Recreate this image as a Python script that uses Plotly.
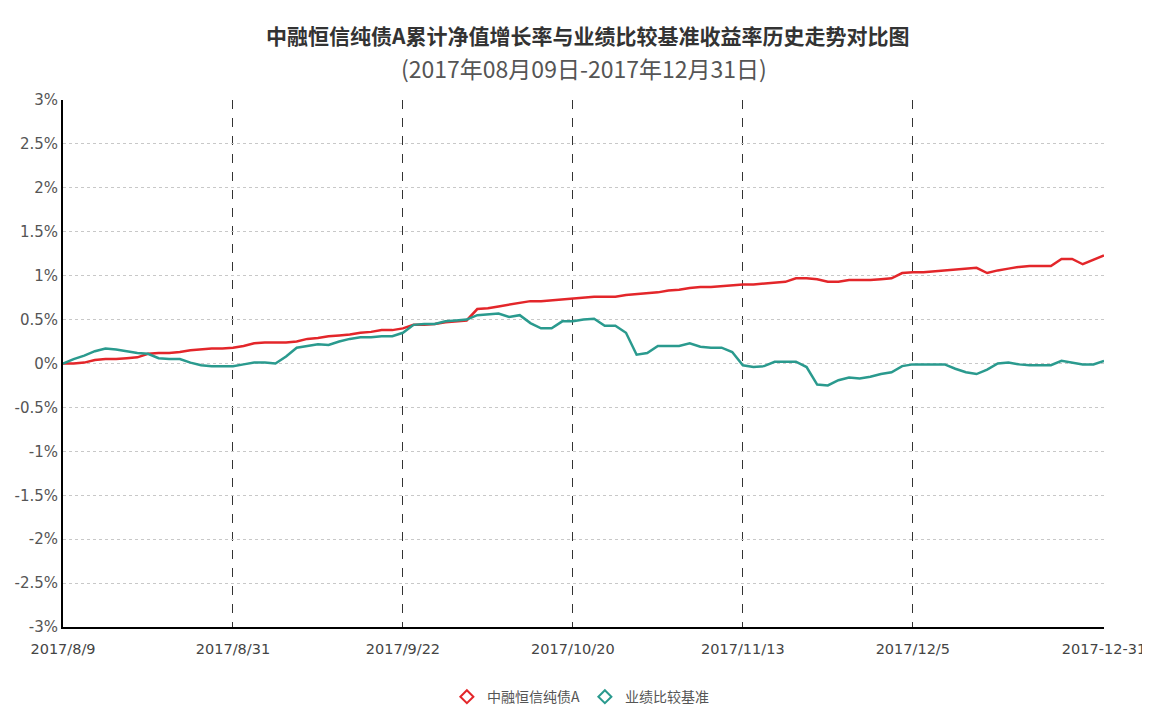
import plotly.graph_objects as go

dates = [
    "2017/8/9", "2017/8/10", "2017/8/11", "2017/8/14", "2017/8/15", "2017/8/16", "2017/8/17", "2017/8/18",
    "2017/8/21", "2017/8/22", "2017/8/23", "2017/8/24", "2017/8/25", "2017/8/28", "2017/8/29", "2017/8/30",
    "2017/8/31", "2017/9/1", "2017/9/4", "2017/9/5", "2017/9/6", "2017/9/7", "2017/9/8", "2017/9/11",
    "2017/9/12", "2017/9/13", "2017/9/14", "2017/9/15", "2017/9/18", "2017/9/19", "2017/9/20", "2017/9/21",
    "2017/9/22", "2017/9/25", "2017/9/26", "2017/9/27", "2017/9/28", "2017/9/29", "2017/9/30", "2017/10/9",
    "2017/10/10", "2017/10/11", "2017/10/12", "2017/10/13", "2017/10/16", "2017/10/17", "2017/10/18", "2017/10/19",
    "2017/10/20", "2017/10/23", "2017/10/24", "2017/10/25", "2017/10/26", "2017/10/27", "2017/10/30", "2017/10/31",
    "2017/11/1", "2017/11/2", "2017/11/3", "2017/11/6", "2017/11/7", "2017/11/8", "2017/11/9", "2017/11/10",
    "2017/11/13", "2017/11/14", "2017/11/15", "2017/11/16", "2017/11/17", "2017/11/20", "2017/11/21", "2017/11/22",
    "2017/11/23", "2017/11/24", "2017/11/27", "2017/11/28", "2017/11/29", "2017/11/30", "2017/12/1", "2017/12/4",
    "2017/12/5", "2017/12/6", "2017/12/7", "2017/12/8", "2017/12/11", "2017/12/12", "2017/12/13", "2017/12/14",
    "2017/12/15", "2017/12/18", "2017/12/19", "2017/12/20", "2017/12/21", "2017/12/22", "2017/12/25", "2017/12/26",
    "2017/12/27", "2017/12/28", "2017-12-31",
]

fund = [
    0.00, 0.00, 0.01, 0.04, 0.05, 0.05, 0.06, 0.07, 0.11, 0.12, 0.12, 0.13, 0.15, 0.16, 0.17, 0.17,
    0.18, 0.20, 0.23, 0.24, 0.24, 0.24, 0.25, 0.28, 0.29, 0.31, 0.32, 0.33, 0.35, 0.36, 0.38, 0.38,
    0.40, 0.44, 0.44, 0.45, 0.47, 0.48, 0.49, 0.62, 0.63, 0.65, 0.67, 0.69, 0.71, 0.71, 0.72, 0.73,
    0.74, 0.75, 0.76, 0.76, 0.76, 0.78, 0.79, 0.80, 0.81, 0.83, 0.84, 0.86, 0.87, 0.87, 0.88, 0.89,
    0.90, 0.90, 0.91, 0.92, 0.93, 0.97, 0.97, 0.96, 0.93, 0.93, 0.95, 0.95, 0.95, 0.96, 0.97, 1.03,
    1.04, 1.04, 1.05, 1.06, 1.07, 1.08, 1.09, 1.03, 1.06, 1.08, 1.10, 1.11, 1.11, 1.11, 1.19, 1.19,
    1.13, 1.18, 1.23,
]

bench = [
    0.00, 0.05, 0.09, 0.14, 0.17, 0.16, 0.14, 0.12, 0.11, 0.06, 0.05, 0.05, 0.01, -0.02, -0.03, -0.03,
    -0.03, -0.01, 0.01, 0.01, 0.00, 0.08, 0.18, 0.20, 0.22, 0.21, 0.25, 0.28, 0.30, 0.30, 0.31, 0.31,
    0.35, 0.44, 0.45, 0.45, 0.48, 0.49, 0.50, 0.55, 0.56, 0.57, 0.53, 0.55, 0.46, 0.40, 0.40, 0.48,
    0.48, 0.50, 0.51, 0.43, 0.43, 0.35, 0.10, 0.12, 0.20, 0.20, 0.20, 0.23, 0.19, 0.18, 0.18, 0.13,
    -0.02, -0.04, -0.03, 0.02, 0.02, 0.02, -0.04, -0.24, -0.25, -0.19, -0.16, -0.17, -0.15, -0.12, -0.10, -0.03,
    -0.01, -0.01, -0.01, -0.01, -0.06, -0.10, -0.12, -0.07, 0.00, 0.01, -0.01, -0.02, -0.02, -0.02, 0.03, 0.01,
    -0.01, -0.01, 0.03,
]

x_ticks = ["2017/8/9", "2017/8/31", "2017/9/22", "2017/10/20", "2017/11/13", "2017/12/5", "2017-12-31"]
y_ticks = [-3, -2.5, -2, -1.5, -1, -0.5, 0, 0.5, 1, 1.5, 2, 2.5, 3]
y_tick_text = ["-3%", "-2.5%", "-2%", "-1.5%", "-1%", "-0.5%", "0%", "0.5%", "1%", "1.5%", "2%", "2.5%", "3%"]

fund_name = "中融恒信纯债A"
bench_name = "业绩比较基准"
title1 = "中融恒信纯债A累计净值增长率与业绩比较基准收益率历史走势对比图"
title2 = "(2017年08月09日-2017年12月31日)"

RED = "#e3262a"
TEAL = "#2a9a8e"
CJK = "Noto Sans CJK SC"
TICKFONT = "DejaVu Sans"

fig = go.Figure()
fig.add_trace(go.Scatter(x=dates, y=fund, mode="lines", line=dict(color=RED, width=2.5),
                         showlegend=False, name=fund_name))
fig.add_trace(go.Scatter(x=dates, y=bench, mode="lines", line=dict(color=TEAL, width=2.5),
                         showlegend=False, name=bench_name))
# legend entries (marker-only diamonds)
fig.add_trace(go.Scatter(x=[None], y=[None], mode="markers", name=fund_name,
                         marker=dict(symbol="diamond-open", size=10, color=RED, line=dict(width=2, color=RED))))
fig.add_trace(go.Scatter(x=[None], y=[None], mode="markers", name=bench_name,
                         marker=dict(symbol="diamond-open", size=10, color=TEAL, line=dict(width=2, color=TEAL))))

# page body has an 8px default margin, so the figure is sized/offset to compensate
fig.update_layout(
    width=1142, height=702,
    margin=dict(l=55, r=46, t=92, b=83, autoexpand=False),
    paper_bgcolor="white", plot_bgcolor="white",
    showlegend=True,
    legend=dict(orientation="h", x=0.497, xanchor="center", y=-0.133, yanchor="middle",
                font=dict(family=CJK, size=14, color="#555"), itemwidth=30, traceorder="normal"),
    annotations=[
        dict(text="<b>" + title1 + "</b>", xref="paper", yref="paper", x=0.504, y=1.1233,
             xanchor="center", yanchor="middle", showarrow=False,
             font=dict(family=CJK, size=21, color="#333")),
        dict(text=title2, xref="paper", yref="paper", x=0.5, y=1.0607,
             xanchor="center", yanchor="middle", showarrow=False,
             font=dict(family=CJK, size=23, color="#555")),
    ],
)

fig.update_xaxes(
    type="category", categoryorder="array", categoryarray=dates,
    range=[0, len(dates) - 1], automargin=False,
    tickmode="array", tickvals=x_ticks, ticktext=x_ticks,
    showgrid=True, gridcolor="#333", griddash="dash", gridwidth=1,
    showline=True, linecolor="black", linewidth=2,
    ticks="", ticklabelstandoff=8,
    tickfont=dict(family=TICKFONT, size=14.5, color="#444"),
    zeroline=False,
)
fig.update_yaxes(
    range=[-3, 3], automargin=False,
    tickmode="array", tickvals=y_ticks, ticktext=y_tick_text,
    showgrid=True, gridcolor="#c8c8c8", griddash="dot", gridwidth=1,
    showline=True, linecolor="black", linewidth=2,
    ticks="", tickfont=dict(family=TICKFONT, size=15, color="#555"),
    zeroline=False,
)

fig.write_html("out.html")
